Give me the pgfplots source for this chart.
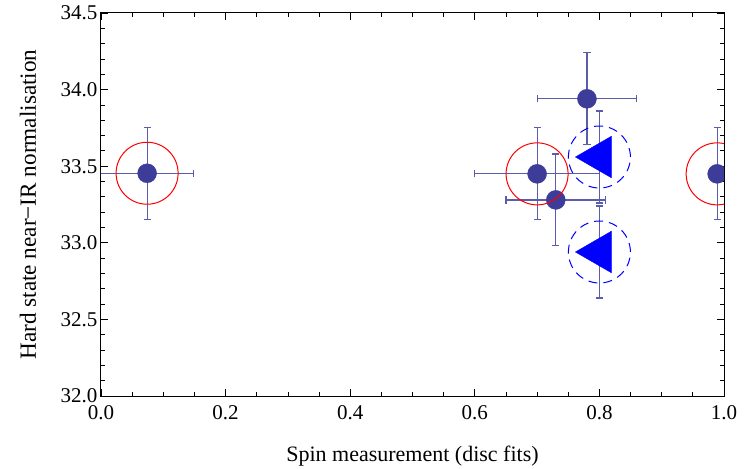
\documentclass[border=0pt]{standalone}
\usepackage{fontspec}
\setmainfont{Liberation Serif}
\usepackage{pgfplots}
\pgfplotsset{compat=1.18}
\definecolor{pt}{rgb}{0.24,0.24,0.6}
\definecolor{eb}{rgb}{0.36,0.36,0.68}
\begin{document}
\begin{tikzpicture}
\useasboundingbox (-101bp,-73bp) rectangle (644bp,396bp);
\begin{axis}[
  at={(0,0)}, anchor=south west,
  scale only axis, width=623bp, height=383bp,
  xmin=0, xmax=1, ymin=32, ymax=34.5,
  xtick={0,0.2,0.4,0.6,0.8,1.0}, minor x tick num=3,
  ytick={32,32.5,33,33.5,34,34.5}, minor y tick num=4,
  tick align=inside,
  major tick length=7bp, minor tick length=4bp,
  tick style={black, line width=0.8bp},
  axis line style={line width=1bp},
  clip marker paths=true,
  /pgf/number format/.cd, fixed, fixed zerofill, precision=1, assume math mode=true,
  /pgfplots/.cd,
  xticklabel style={font=\fontsize{21bp}{24bp}\selectfont, yshift=-6bp},
  yticklabel style={font=\fontsize{21bp}{24bp}\selectfont},
  xlabel={Spin measurement (disc fits)},
  ylabel={Hard state near−IR normalisation},
  xlabel style={font=\fontsize{22bp}{26bp}\selectfont, at={(axis description cs:0.5,-0.1567)}, anchor=center},
  ylabel style={font=\fontsize{23.2bp}{26bp}\selectfont, at={(axis description cs:-0.1172,0.5)}, anchor=center},
]
\addplot[only marks, mark=*, mark size=9.5bp, color=pt,
  mark options={draw=none, fill=pt},
  error bars/.cd, x dir=both, x explicit, y dir=both, y explicit,
  error bar style={color=eb, line width=1.2bp},
  error mark=-,
  error mark options={color=eb, rotate=90, mark size=3.6bp, line width=1.2bp}]
  table[x=x, y=y, x error=ex, y error=ey] {
x     y      ex    ey
0.074 33.454 0.075 0.30
0.700 33.450 0.100 0.30
0.730 33.280 0.080 0.30
0.780 33.940 0.080 0.30
0.989 33.450 0.000 0.30
};
\addplot[only marks, mark=triangle*, mark size=24bp, color=blue,
  mark options={rotate=90, draw=none, fill=blue},
  error bars/.cd, y dir=both, y explicit,
  error bar style={color=eb, line width=1.2bp},
  error mark=-,
  error mark options={color=eb, rotate=90, mark size=3.6bp, line width=1.2bp}]
  table[x=x, y=y, y error=ey] {
x    y     ey
0.80 33.56 0.30
0.80 32.94 0.30
};
\addplot[only marks, mark=o, mark size=31bp, color=red,
  mark options={line width=1bp}]
  coordinates {(0.074,33.454) (0.700,33.45) (0.989,33.45)};
\addplot[only marks, mark=o, mark size=31bp, color=blue,
  mark options={line width=1bp, dash pattern=on 9bp off 6bp}]
  coordinates {(0.80,33.56) (0.80,32.94)};
\end{axis}
\end{tikzpicture}
\end{document}
